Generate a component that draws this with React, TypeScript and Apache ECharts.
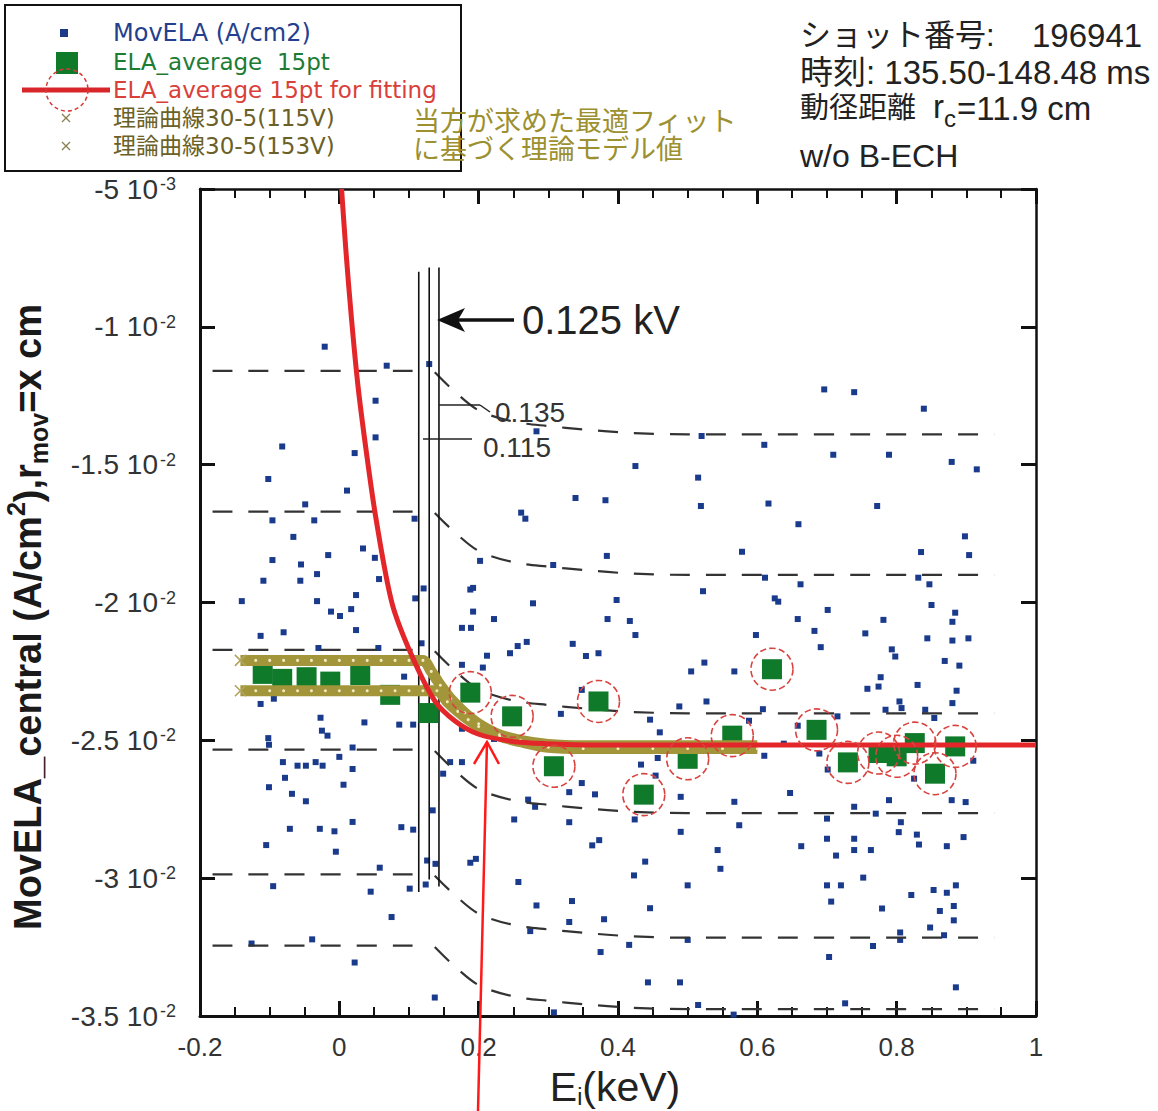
import { useEffect, useRef } from "react";
import * as echarts from "echarts";

// ---------- DATA (E_i in keV, MovELA in units of 1e-3 A/cm2) ----------
const movEla: [number, number][] = [
  [-0.021,-10.72],[0.068,-11.41],[0.129,-11.35],[0.052,-12.68],[0.052,-14.01],[-0.082,-14.34],[0.022,-14.58],[0.283,-13.79],
  [-0.102,-15.52],[0.011,-15.94],[-0.049,-16.44],[-0.096,-17.02],[-0.036,-17.02],[0.108,-16.96],[-0.066,-17.62],[0.339,-16.21],
  [0.382,-16.29],[0.261,-16.74],[0.267,-16.96],[0.034,-18.04],[-0.016,-18.28],[-0.096,-18.46],[-0.055,-18.62],[0.051,-18.38],
  [0.202,-18.49],[0.307,-18.64],[0.384,-18.31],[-0.109,-19.21],[-0.056,-19.21],[-0.032,-18.97],[0.057,-19.15],[0.121,-19.49],
  [0.188,-19.53],[0.192,-19.47],[0.024,-19.73],[-0.14,-19.95],[-0.032,-19.95],[0.109,-19.85],[0.278,-20.03],
  [0.696,-12.27],[0.739,-12.37],[0.839,-12.97],[0.52,-13.96],[0.425,-15.05],[0.61,-14.28],[0.709,-14.64],[0.789,-14.64],
  [0.879,-14.9],[0.915,-15.17],[0.515,-15.47],[0.519,-16.5],[0.616,-16.41],[0.772,-16.5],[0.659,-17.16],[0.578,-18.16],
  [0.835,-18.17],[0.898,-17.6],[0.904,-18.28],[0.611,-19.1],[0.831,-19.1],[0.847,-19.34],[0.662,-19.34],[0.522,-19.59],
  [0.625,-19.85],[0.63,-19.97],[0.398,-19.91],[0.85,-20.09],
  [-0.012,-20.33],[0.001,-20.49],[0.017,-20.24],[0.024,-21.0],[-0.08,-21.08],[-0.113,-21.21],[-0.03,-21.65],[0.056,-21.65],
  [0.192,-20.33],[0.222,-20.6],[0.385,-20.6],[0.176,-20.92],[0.189,-20.92],[0.269,-21.43],[0.256,-21.58],[0.245,-21.84],
  [0.335,-21.5],[0.354,-21.94],[0.372,-21.84],[0.212,-21.93],[0.176,-22.26],[0.206,-22.36],[0.118,-21.48],[0.093,-22.69],
  [-0.094,-23.49],[-0.113,-23.68],[0.348,-23.17],[0.318,-24.04],[-0.027,-24.18],[0.036,-24.35],[0.086,-24.43],[0.106,-24.43],
  [-0.025,-24.65],[-0.017,-24.83],[0.176,-24.58],[0.222,-24.95],[-0.102,-24.92],[-0.101,-25.16],[0.019,-25.26],[-0.081,-25.79],
  [-0.06,-25.92],[-0.048,-25.92],[-0.034,-25.79],[-0.024,-25.92],[0.0,-25.6],[0.019,-26.04],[0.159,-25.79],[0.176,-25.79],
  [0.149,-26.21],[-0.078,-26.36],[-0.101,-26.7],[0.006,-26.61],[-0.068,-26.94],[-0.048,-27.21],[0.348,-26.55],[0.33,-26.88],
  [0.367,-26.96],[0.271,-27.15],[0.281,-27.41],[0.251,-27.87],[0.33,-27.97],[0.134,-27.54],[0.019,-27.96],[-0.071,-28.21],
  [-0.028,-28.21],[-0.007,-28.3],[0.089,-28.15],[0.106,-28.24],[-0.105,-28.8],[-0.005,-29.04],[0.373,-28.62],[0.363,-28.81],
  [0.126,-29.36],[0.138,-29.48],[0.188,-29.44],[0.196,-29.3],[0.058,-29.62],[0.257,-30.14],[-0.095,-30.29],[0.045,-30.49],
  [0.101,-30.38],[0.124,-30.23],[0.283,-30.99],[0.334,-30.83],[0.075,-31.41],[0.274,-31.92],[0.33,-31.59],[0.38,-31.49],
  [-0.126,-32.37],[-0.039,-32.22],[0.022,-33.06],[0.375,-32.68],[0.137,-34.33],[0.308,-34.87],
  [0.417,-20.67],[0.425,-21.18],[0.701,-20.27],[0.658,-20.6],[0.682,-21.03],[0.691,-21.62],[0.598,-21.18],[0.781,-20.63],
  [0.755,-21.12],[0.884,-20.37],[0.88,-20.7],[0.844,-21.3],[0.88,-21.38],[0.903,-21.3],[0.793,-21.7],[0.798,-21.96],
  [0.869,-22.12],[0.89,-22.29],[0.524,-22.18],[0.505,-22.5],[0.567,-22.5],[0.777,-22.71],[0.774,-23.05],[0.758,-23.13],
  [0.83,-22.99],[0.886,-23.2],[0.88,-23.65],[0.527,-23.59],[0.488,-23.77],[0.804,-23.59],[0.807,-23.83],[0.784,-23.89],
  [0.841,-23.89],[0.854,-24.19],[0.608,-23.87],[0.446,-24.25],[0.46,-24.71],[0.588,-24.29],[0.658,-24.47],[0.715,-24.13],
  [0.638,-25.12],[0.689,-25.48],[0.61,-25.56],[0.457,-25.64],[0.433,-25.88],[0.701,-26.06],[0.825,-26.39],[0.91,-25.74],
  [0.454,-26.28],[0.647,-26.91],[0.49,-27.05],[0.567,-27.23],[0.789,-27.17],[0.879,-27.17],[0.899,-27.24],[0.739,-27.41],
  [0.424,-27.87],[0.7,-27.84],[0.77,-27.66],[0.806,-27.97],[0.803,-28.33],[0.574,-28.08],[0.49,-28.32],[0.829,-28.42],
  [0.832,-28.78],[0.896,-28.51],[0.872,-28.84],[0.7,-28.57],[0.739,-28.57],[0.739,-28.98],[0.763,-28.98],[0.663,-28.84],
  [0.713,-29.18],[0.543,-28.98],[0.547,-29.66],[0.439,-29.4],[0.423,-29.9],[0.752,-29.98],[0.5,-30.26],[0.7,-30.26],
  [0.72,-30.26],[0.885,-30.26],[0.821,-30.61],[0.853,-30.43],[0.872,-30.53],[0.706,-30.85],[0.882,-31.01],[0.446,-31.09],
  [0.779,-31.1],[0.862,-31.19],[0.882,-31.53],[0.848,-31.79],[0.805,-31.97],[0.805,-32.24],[0.868,-32.07],[0.5,-32.24],
  [0.416,-32.42],[0.766,-32.46],[0.703,-32.86],[0.443,-33.78],[0.489,-33.78],[0.885,-33.96],[0.726,-34.54],[0.515,-34.6],
  [0.566,-34.95],
];

// ELA_average 15pt (not used for fitting)
const avgX = [-0.11, -0.082, -0.047, -0.013, 0.03, 0.073, 0.128];
const avgY = [-22.59, -22.77, -22.71, -22.87, -22.63, -23.35, -24.01];
// ELA_average 15pt used for fitting (circled)
const fitPtX = [0.188, 0.248, 0.308, 0.372, 0.437, 0.5, 0.564, 0.621, 0.685, 0.73, 0.774, 0.8, 0.826, 0.855, 0.884];
const fitPtY = [-23.27, -24.13, -25.94, -23.59, -26.97, -25.67, -24.83, -22.42, -24.62, -25.8, -25.46, -25.58, -25.1, -26.21, -25.22];
// red fitted curve
const fitCurveX = [0.0032, 0.0096, 0.0175, 0.0268, 0.039, 0.0527, 0.0756, 0.103, 0.137, 0.166, 0.199, 0.246, 0.295, 0.374, 0.6, 0.8, 1.0];
const fitCurveY = [-5, -7.29, -9.72, -12.15, -14.58, -16.97, -20.02, -21.87, -23.57, -24.3, -24.77, -25.03, -25.12, -25.17, -25.17, -25.17, -25.17];
// theory curves 30-5
const th115X = [-0.142,-0.12,-0.1,-0.08,-0.06,-0.04,-0.02,0,0.02,0.04,0.06,0.08,0.1,0.12,0.132,0.145,0.16,0.18,0.2,0.23,0.26,0.3,0.35,0.4,0.45,0.5,0.55,0.6];
const th115Y = [-22.1,-22.1,-22.1,-22.1,-22.1,-22.1,-22.1,-22.1,-22.1,-22.1,-22.1,-22.1,-22.1,-22.1,-22.5,-23.0,-23.5,-24.0,-24.4,-24.8,-25.0,-25.15,-25.2,-25.2,-25.2,-25.2,-25.2,-25.2];
const th153X = [-0.142,-0.12,-0.1,-0.08,-0.06,-0.04,-0.02,0,0.02,0.04,0.06,0.08,0.1,0.12,0.14,0.155,0.17,0.185,0.2,0.23,0.26,0.3,0.35,0.4,0.45,0.5,0.55,0.6];
const th153Y = [-23.2,-23.2,-23.2,-23.2,-23.2,-23.2,-23.2,-23.2,-23.2,-23.2,-23.2,-23.2,-23.2,-23.2,-23.2,-23.6,-23.95,-24.25,-24.5,-24.85,-25.05,-25.25,-25.3,-25.3,-25.3,-25.3,-25.3,-25.3];
// vertical marker lines (0.115 / 0.125 / 0.135 kV)
const vLineX = [0.114, 0.129, 0.143];
const vLineTop = [-8.0, -7.85, -7.85];
const vLineBottom = [-30.5, -30.05, -30.3];
// dashed reference lines
const dashLeftX = [-0.182, 0.112];
const dashLeftLevels = [-11.6, -16.7, -21.72, -25.34, -29.86, -32.45];
const dashRightX = [0.137, 0.163, 0.2, 0.25, 0.3, 0.35, 0.42, 0.5, 0.94];
const dashRightLevels = [
  [-11.65, -12.29, -13.03, -13.44, -13.6, -13.72, -13.85, -13.9, -13.9],
  [-16.75, -17.39, -18.13, -18.54, -18.7, -18.82, -18.95, -19.0, -19.0],
  [-21.77, -22.41, -23.15, -23.56, -23.72, -23.84, -23.97, -24.02, -24.02],
  [-25.39, -26.03, -26.77, -27.18, -27.34, -27.46, -27.59, -27.64, -27.64],
  [-29.91, -30.55, -31.29, -31.7, -31.86, -31.98, -32.11, -32.16, -32.16],
  [-32.5, -33.14, -33.88, -34.29, -34.45, -34.57, -34.7, -34.75, -34.75],
];
// y tick labels
const yTickValues = [-35, -30, -25, -20, -15, -10, -5];
const yTickMantissa = ["-3.5", "-3", "-2.5", "-2", "-1.5", "-1", "-5"];
const yTickExp = ["-2", "-2", "-2", "-2", "-2", "-2", "-3"];

// ---------- STYLE ----------
const SANS = "'Liberation Sans', Arial, Helvetica, sans-serif";
const JP = "'Liberation Sans', 'Noto Sans CJK JP', sans-serif";
const LEG = "'DejaVu Sans', 'Noto Sans CJK JP', sans-serif";

function textW(t: string, size: number, family: string, weight = "normal") {
  const ctx = document.createElement("canvas").getContext("2d");
  if (!ctx) return t.length * size * 0.55;
  ctx.font = `${weight} ${size}px ${family}`;
  return ctx.measureText(t).width;
}

function txt(text: string, x: number, y: number, size: number, fill: string, family = SANS, extra: any = {}) {
  return {
    type: "text", x, y, z: 100, silent: true,
    style: { text, fontSize: size, fontFamily: family, fill, align: "left", verticalAlign: "middle", textAlign: "left", textVerticalAlign: "middle", ...extra },
  };
}
function seg(x1: number, y1: number, x2: number, y2: number, stroke: string, lineWidth: number) {
  return { type: "line", z: 100, silent: true, shape: { x1, y1, x2, y2 }, style: { stroke, lineWidth } };
}

function buildGraphic() {
  const g: any[] = [];
  // legend box
  g.push({ type: "rect", z: 90, shape: { x: 5, y: 5, width: 456, height: 166 }, style: { fill: "#fff", stroke: "#111", lineWidth: 2 } });
  g.push({ type: "rect", z: 100, shape: { x: 60, y: 29, width: 8, height: 8 }, style: { fill: "#1d3a8a" } });
  g.push({ type: "rect", z: 100, shape: { x: 56, y: 52, width: 22, height: 22 }, style: { fill: "#0f7a2a" } });
  g.push(seg(22, 90, 110, 90, "#d8262a", 5));
  g.push({ type: "circle", z: 101, shape: { cx: 67, cy: 90, r: 21 }, style: { fill: "none", stroke: "#d83a3a", lineWidth: 1.5, lineDash: [4, 3] } });
  [118, 146].forEach((cy) => {
    g.push(seg(62, cy - 4, 70, cy + 4, "#8a8050", 1.3));
    g.push(seg(70, cy - 4, 62, cy + 4, "#8a8050", 1.3));
  });
  g.push(txt("MovELA (A/cm2)", 113, 33, 24, "#23408e", LEG));
  g.push(txt("ELA_average  15pt", 113, 62, 23, "#1c7c34", LEG));
  g.push(txt("ELA_average 15pt for fitting", 113, 90, 23, "#d9403a", LEG));
  g.push(txt("理論曲線30-5(115V)", 113, 118, 23, "#6b6128", LEG));
  g.push(txt("理論曲線30-5(153V)", 113, 146, 23, "#6b6128", LEG));
  g.push(txt("当方が求めた最適フィット", 413, 121, 27, "#9c9030", LEG));
  g.push(txt("に基づく理論モデル値", 413, 149, 27, "#9c9030", LEG));

  // top right info
  g.push(txt("ショット番号:", 800, 35, 31, "#222", JP));
  g.push(txt("196941", 1032, 35, 33, "#222", JP));
  g.push(txt("時刻: 135.50-148.48 ms", 800, 72, 33, "#222", JP));
  g.push(txt("動径距離", 800, 108, 29, "#222", JP));
  const wr = textW("r", 33, SANS);
  const wc = textW("c", 24, SANS);
  g.push(txt("r", 933, 106, 33, "#222", SANS));
  g.push(txt("c", 933 + wr, 118, 24, "#222", SANS));
  g.push(txt("=11.9 cm", 933 + wr + wc + 1, 108, 33, "#222", SANS));
  g.push(txt("w/o B-ECH", 800, 156, 32, "#222", SANS));

  // annotations in plot
  g.push(txt("0.125 kV", 522, 320, 40, "#222", SANS));
  g.push(seg(450, 320, 514, 320, "#111", 3.5));
  g.push({ type: "polygon", z: 100, shape: { points: [[437, 320], [465, 308], [458, 320], [465, 332]] }, style: { fill: "#111" } });
  g.push(seg(439, 405, 480, 405, "#222", 1.5));
  g.push(seg(480, 405, 490, 412, "#222", 1.5));
  g.push(seg(423, 439, 472, 439, "#222", 1.5));
  g.push(txt("0.135", 495, 412, 28, "#333", SANS));
  g.push(txt("0.115", 483, 447, 28, "#333", SANS));

  // red arrow
  g.push(seg(478, 1111, 487, 742, "#ff1a1a", 2.5));
  g.push({ type: "polyline", z: 100, shape: { points: [[474, 764], [487, 742], [499, 764]] }, style: { stroke: "#ff1a1a", lineWidth: 2.5, fill: "none" } });

  // x title
  const wE = textW("E", 41, SANS), wi = textW("i", 23, SANS), wk = textW("(keV)", 41, SANS);
  const x0 = 615 - (wE + wi + wk) / 2;
  g.push(txt("E", x0, 1087, 41, "#222", SANS));
  g.push(txt("i", x0 + wE, 1097, 23, "#222", SANS));
  g.push(txt("(keV)", x0 + wE + wi, 1087, 41, "#222", SANS));

  // y title (rotated)
  const parts = [
    { t: "MovELA_central (A/cm", s: 38, dy: 0 },
    { t: "2", s: 25, dy: -12 },
    { t: "),r", s: 38, dy: 0 },
    { t: "mov", s: 25, dy: 11 },
    { t: "=x cm", s: 38, dy: 0 },
  ];
  const widths = parts.map((p) => textW(p.t, p.s, SANS, "bold"));
  const total = widths.reduce((a, b) => a + b, 0);
  let cx = -total / 2;
  const children: any[] = [];
  parts.forEach((p, i) => {
    children.push({
      type: "text", x: cx, y: p.dy, silent: true,
      style: { text: p.t, fontSize: p.s, fontWeight: "bold", fontFamily: SANS, fill: "#1a1a1a", align: "left", verticalAlign: "middle", textAlign: "left", textVerticalAlign: "middle" },
    });
    cx += widths[i];
  });
  g.push({ type: "group", x: 28, y: 617, rotation: Math.PI / 2, z: 100, children });
  return g;
}

function buildOption(): any {
  const axisCommonX = {
    type: "value", min: -0.2, max: 1, interval: 0.2,
    splitLine: { show: false },
    axisTick: { show: true, inside: true, length: 15, lineStyle: { color: "#111", width: 3 } },
    minorTick: { show: true, splitNumber: 4, length: 9, lineStyle: { color: "#111", width: 2 } },
  };
  const axisCommonY = {
    type: "value", min: -35, max: -5, interval: 5,
    splitLine: { show: false },
    axisTick: { show: true, inside: true, length: 15, lineStyle: { color: "#111", width: 3 } },
  };
  const dashSeries = dashLeftLevels.map((L, i) => ({
    type: "line", z: 3, silent: true, smooth: 0.3, symbol: "none",
    lineStyle: { color: "#333", width: 2.2, type: [20, 16] },
    data: [
      ...dashLeftX.map((x) => [x, L]),
      [0.125, "-"],
      ...dashRightX.map((x, j) => [x, dashRightLevels[i][j]]),
    ],
  }));
  const vData: any[] = [];
  vLineX.forEach((x, i) => {
    if (i > 0) vData.push([x - 0.007, "-"]);
    vData.push([x, vLineTop[i]]);
    vData.push([x, vLineBottom[i]]);
  });
  const crossFirst = (xs: number[], ys: number[]) =>
    xs.map((x, i) =>
      i === 0
        ? { value: [x, ys[i]], symbol: "path://M0,0L10,10M10,0L0,10", symbolSize: 11, itemStyle: { color: "rgba(0,0,0,0)", borderColor: "#b3a35c", borderWidth: 1.6 } }
        : [x, ys[i]]
    );
  const olive = (name: string, xs: number[], ys: number[]) => ({
    name, type: "line", z: 5, silent: true, smooth: 0.3,
    showSymbol: true, showAllSymbol: true, symbol: "circle", symbolSize: 3,
    itemStyle: { color: "#f2ecc2" },
    lineStyle: { color: "#a3963a", width: 11 },
    data: crossFirst(xs, ys),
  });

  return {
    animation: false,
    backgroundColor: "#ffffff",
    textStyle: { fontFamily: SANS },
    grid: { left: 200, top: 189, width: 836, height: 827, show: false },
    xAxis: [
      {
        ...axisCommonX, position: "bottom",
        axisLine: { show: true, lineStyle: { color: "#111", width: 3 } },
        axisLabel: { show: true, fontSize: 26, color: "#333", margin: 18, fontFamily: SANS },
      },
      {
        ...axisCommonX, position: "top",
        axisLine: { show: true, onZero: false, lineStyle: { color: "#111", width: 2.5 } },
        axisLabel: { show: false },
      },
    ],
    yAxis: [
      {
        ...axisCommonY, position: "left",
        axisLine: { show: true, onZero: false, lineStyle: { color: "#111", width: 3 } },
        axisLabel: {
          show: true, margin: 24,
          formatter: (v: number) => {
            const i = yTickValues.indexOf(Math.round(v));
            return i < 0 ? "" : `{m|${yTickMantissa[i]} 10}{e|${yTickExp[i]}}`;
          },
          rich: {
            m: { fontSize: 28, color: "#333", fontFamily: SANS },
            e: { fontSize: 18, color: "#333", fontFamily: SANS, verticalAlign: "top", padding: [0, 0, 0, 2] },
          },
        },
      },
      {
        ...axisCommonY, position: "right",
        axisLine: { show: true, onZero: false, lineStyle: { color: "#111", width: 2.5 } },
        axisLabel: { show: false },
      },
    ],
    series: [
      {
        name: "MovELA (A/cm2)", type: "scatter", z: 2, silent: true,
        symbol: "rect", symbolSize: 6, itemStyle: { color: "#1a3a8c", opacity: 1 },
        data: movEla,
      },
      ...dashSeries,
      {
        type: "line", z: 3, silent: true, symbol: "none",
        lineStyle: { color: "#111", width: 1.6 },
        data: vData,
      },
      {
        name: "ELA_average 15pt", type: "scatter", z: 4, silent: true,
        symbol: "rect", symbolSize: 20, itemStyle: { color: "#0f7a2a", opacity: 1 },
        data: [...avgX.map((x, i) => [x, avgY[i]]), ...fitPtX.map((x, i) => [x, fitPtY[i]])],
      },
      olive("理論曲線30-5(115V)", th115X, th115Y),
      olive("理論曲線30-5(153V)", th153X, th153Y),
      {
        name: "fit", type: "line", z: 6, silent: true, symbol: "none", smooth: 0.3,
        lineStyle: { color: "#e3262a", width: 5 },
        data: fitCurveX.map((x, i) => [x, fitCurveY[i]]),
      },
      {
        name: "ELA_average 15pt for fitting", type: "scatter", z: 7, silent: true,
        symbol: "circle", symbolSize: 42,
        itemStyle: { color: "rgba(255,255,255,0)", borderColor: "#d9433f", borderWidth: 1.6, borderType: "dashed", opacity: 1 },
        data: fitPtX.map((x, i) => [x, fitPtY[i]]),
      },
    ],
    graphic: buildGraphic(),
  };
}

export default function App() {
  const ref = useRef<HTMLDivElement>(null);
  useEffect(() => {
    if (!ref.current) return;
    const chart = echarts.init(ref.current, undefined, { renderer: "svg" });
    chart.setOption(buildOption());
    return () => chart.dispose();
  }, []);
  return (
    <div
      ref={ref}
      style={{ position: "absolute", left: 0, top: 0, width: 1158, height: 1111, background: "#fff" }}
    />
  );
}
